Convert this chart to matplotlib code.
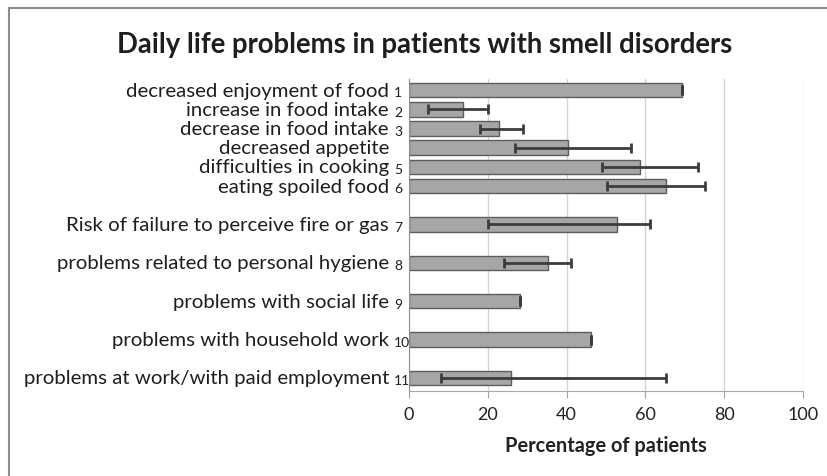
import matplotlib
matplotlib.use("Agg")
import matplotlib.pyplot as plt
from matplotlib.lines import Line2D
from matplotlib.transforms import blended_transform_factory, offset_copy

plt.rcParams['font.family'] = ['Lato', 'DejaVu Sans']

labels = [
    "decreased enjoyment of food",
    "increase in food intake",
    "decrease in food intake",
    "decreased appetite",
    "difficulties in cooking",
    "eating spoiled food",
    "Risk of failure to perceive fire or gas",
    "problems related to personal hygiene",
    "problems with social life",
    "problems with household work",
    "problems at work/with paid employment",
]
numbers = ["1", "2", "3", "", "5", "6", "7", "8", "9", "10", "11"]
values = [69.2, 13.6, 22.8, 40.4, 58.6, 65.2, 52.9, 35.2, 28.2, 46.2, 25.9]
err_low = [69.2, 4.9, 18.0, 26.9, 49.1, 50.2, 20.1, 24.1, 28.2, 46.2, 8.0]
err_high = [69.2, 20.1, 29.0, 56.3, 73.3, 75.1, 61.2, 41.0, 28.2, 46.2, 65.2]
xticks = [0, 20, 40, 60, 80, 100]

W, H = 827, 477
fig = plt.figure(figsize=(W / 100, H / 100), dpi=100)
ax = fig.add_axes([409 / W, 1 - 392 / H, (803 - 409) / W, (392 - 80) / H])

# layout: first six rows compressed (half spacing), last five full spacing
ypos = [7.5, 7.0, 6.5, 6.0, 5.5, 5.0, 4.0, 3.0, 2.0, 1.0, 0.0]

xerr = [[v - lo for v, lo in zip(values, err_low)],
        [hi - v for v, hi in zip(values, err_high)]]

ax.barh(ypos, values, height=0.38, color="#a6a6a6", edgecolor="#5e5e5e",
        linewidth=1.0, zorder=2)
ax.errorbar(values, ypos, xerr=xerr, fmt="none", ecolor="#3c3c3c",
            elinewidth=2.0, capsize=3.5, capthick=2.0, zorder=3)

ax.set_xlim(0, 100)
ax.set_ylim(-0.34, 7.79)
ax.set_xticks(xticks)
ax.set_xticklabels([str(t) for t in xticks], fontsize=13, color="#222222")
ax.set_yticks([])
ax.tick_params(axis="x", length=5, color="#a0a0a0", pad=6)
ax.grid(axis="x", color="#d4d4d4", linewidth=1.0, zorder=0)
ax.set_axisbelow(True)
for s in ["top", "right"]:
    ax.spines[s].set_visible(False)
ax.spines["bottom"].set_color("#a8a8a8")
ax.spines["left"].set_color("#909090")
ax.set_xlabel("Percentage of patients", fontsize=14.4, fontweight="bold",
              color="#222222", labelpad=9)

trans = blended_transform_factory(ax.transAxes, ax.transData)
tr_main = offset_copy(trans, fig=fig, x=-20, y=0, units="dots")
tr_num = offset_copy(trans, fig=fig, x=-15, y=0, units="dots")
for lab, num, y in zip(labels, numbers, ypos):
    ax.text(0, y, lab, transform=tr_main, ha="right", va="center",
            fontsize=14.7, color="#1e1e1e")
    if num:
        ax.text(0, y - 0.06, num, transform=tr_num, ha="left", va="center",
                fontsize=10, color="#1e1e1e")

fig.text(425 / W, 1 - 45 / H, "Daily life problems in patients with smell disorders",
         ha="center", va="center", fontsize=19.8, fontweight="bold", color="#1e1e1e")

fig.add_artist(Line2D([8.5 / W, 8.5 / W], [0, 1 - 9 / H], transform=fig.transFigure,
                      color="#8c8c8c", linewidth=1.5))
fig.add_artist(Line2D([8.5 / W, 1], [1 - 9 / H, 1 - 9 / H], transform=fig.transFigure,
                      color="#8c8c8c", linewidth=1.5))

fig.savefig("out.png", dpi=100)
